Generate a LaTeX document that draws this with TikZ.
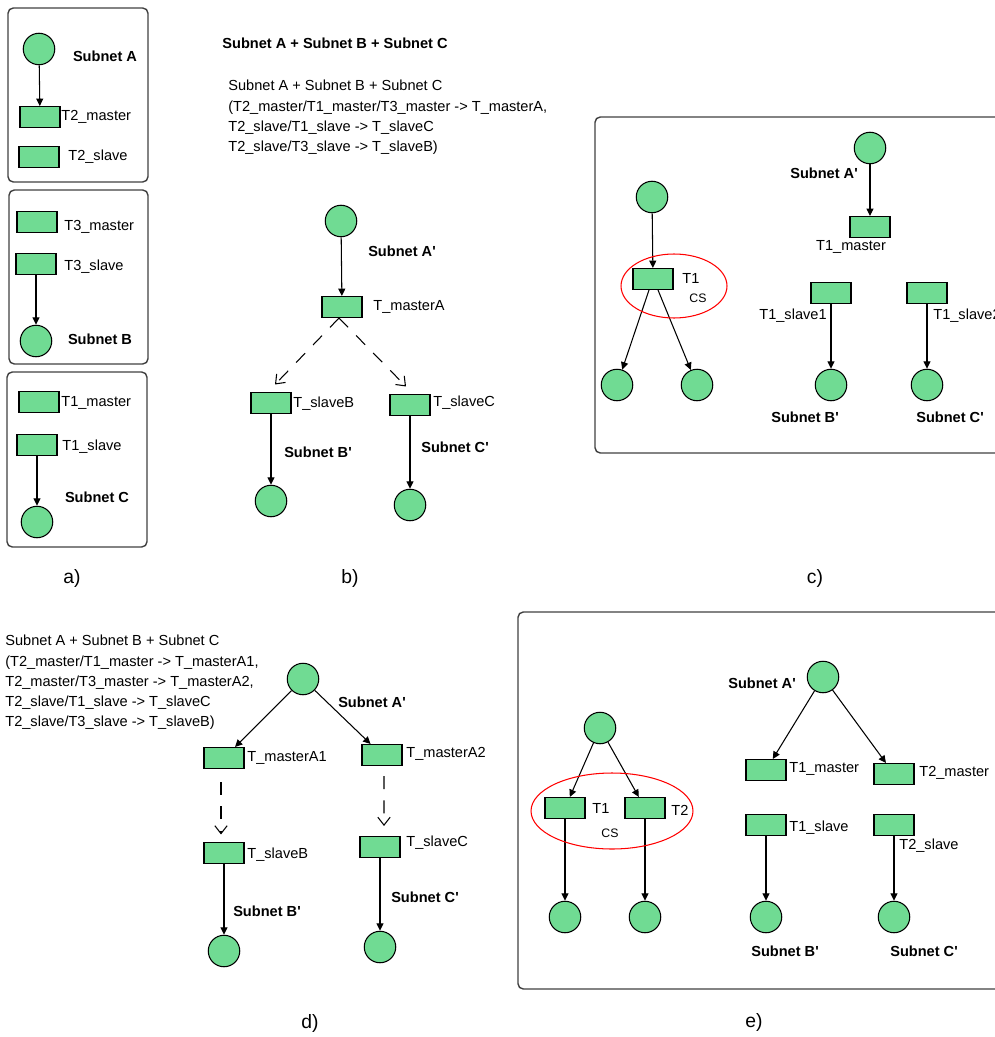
\documentclass[tikz,border=0pt]{standalone}
\usepackage{fontspec}
\setmainfont{Liberation Sans}
\usetikzlibrary{arrows.meta,positioning}
\definecolor{placegreen}{RGB}{112,219,147}
\newcommand{\subfont}{\fontsize{8.3}{11.5}\selectfont}

\begin{document}
\begin{tikzpicture}[
  x=0.02cm, y=-0.02cm,
  every node/.style={font=\subfont, inner sep=0pt},
  place/.style={circle, draw, fill=placegreen, line width=0.6pt, minimum size=0.63cm},
  trans/.style={rectangle, draw, fill=placegreen, line width=0.6pt, minimum width=0.8cm, minimum height=0.42cm},
  lbl/.style={anchor=west},
  sub/.style={font=\subfont\bfseries},
  cs/.style={font=\fontsize{7}{8}\selectfont},
  caption/.style={font=\fontsize{11}{12}\selectfont},
  arc/.style={-{Triangle[length=4.2pt,width=4pt]}, line width=0.6pt},
  darc/.style={-{Straight Barb[length=4.5pt,width=7pt]}, line width=0.6pt, dash pattern=on 7.4pt off 6.5pt},
  panel/.style={draw=black!75, line width=0.8pt, rounded corners=3pt},
  region/.style={draw=red, line width=0.6pt}
]
\useasboundingbox (0,0) rectangle (994,1037);

% a)
\draw[panel] (8,8) rectangle (148,182);
\draw[panel] (9,190) rectangle (148,364);
\draw[panel] (7,372) rectangle (147,547);
\node[place] (pA) at (39,49) {};
\node[sub] at (105,56) {Subnet A};
\node[trans] (t2m) at (40,117) {};
\node[lbl] at (61,117) {T2\_master};
\node[trans] (t2s) at (39,157) {};
\node[lbl] at (68,157) {T2\_slave};
\draw[arc] (pA) -- (t2m);
\node[trans] (t3m) at (37,222) {};
\node[lbl] at (64,227) {T3\_master};
\node[trans] (t3s) at (36,264) {};
\node[lbl] at (64,267) {T3\_slave};
\node[place] (pB) at (36,341) {};
\node[sub] at (100,339) {Subnet B};
\draw[arc] (t3s) -- (pB);
\node[trans] (t1m) at (39,402) {};
\node[lbl] at (61,403) {T1\_master};
\node[trans] (t1s) at (37,445) {};
\node[lbl] at (62,447) {T1\_slave};
\node[place] (pC) at (37,522) {};
\node[sub] at (97,497) {Subnet C};
\draw[arc] (t1s) -- (pC);
\node[caption] at (72,578) {a)};

% b)
\node[sub] at (335,43) {Subnet A + Subnet B + Subnet C};
\node[anchor=north west, align=left] at (228,80) {Subnet A + Subnet B + Subnet C\\
  (T2\_master/T1\_master/T3\_master -> T\_masterA,\\
  T2\_slave/T1\_slave -> T\_slaveC\\
  T2\_slave/T3\_slave -> T\_slaveB)};
\node[place] (pbA) at (341,221) {};
\node[sub] at (402,251) {Subnet A\textquotesingle};
\node[trans] (tmA) at (342,307) {};
\node[lbl] at (373,307) {T\_masterA};
\draw[arc] (pbA) -- (tmA);
\node[trans] (tsB) at (271,403) {};
\node[lbl] at (293,404) {T\_slaveB};
\node[trans] (tsC) at (410,405) {};
\node[lbl] at (433,403) {T\_slaveC};
\draw[darc] ([xshift=-0.06cm]tmA.south) -- ([xshift=0.08cm,yshift=0.15cm]tsB.north);
\draw[darc] ([xshift=-0.06cm]tmA.south) -- ([xshift=-0.08cm,yshift=0.15cm]tsC.north);
\node[place] (pbB) at (271,501) {};
\node[place] (pbC) at (410,505) {};
\draw[arc] (tsB) -- (pbB);
\draw[arc] (tsC) -- (pbC);
\node[sub] at (318,452) {Subnet B\textquotesingle};
\node[sub] at (455,447) {Subnet C\textquotesingle};
\node[caption] at (350,578) {b)};

% c)
\draw[panel] (595,117) rectangle (1010,453);
\node[place] (pc0) at (652,197) {};
\node[trans] (tc1) at (653,279) {};
\node[lbl] at (682,278) {T1};
\node[cs] at (698,298) {CS};
\node[place] (pc1) at (617,385) {};
\node[place] (pc2) at (697,385) {};
\draw[arc] (pc0) -- (tc1);
\draw[arc] ([xshift=-0.08cm]tc1.south) -- (pc1);
\draw[arc] ([xshift=0.1cm]tc1.south) -- (pc2);
\draw[region] (674,286) ellipse [x radius=1.06cm, y radius=0.64cm];
\node[place] (pcA) at (870,148) {};
\node[sub] at (824,173) {Subnet A\textquotesingle};
\node[trans] (tcm) at (870,227) {};
\node at (851,247) {T1\_master};
\draw[arc] (pcA) -- (tcm);
\node[trans] (tcs1) at (831,293) {};
\node at (793,316) {T1\_slave1};
\node[trans] (tcs2) at (927,293) {};
\node[lbl] at (933,316) {T1\_slave2};
\node[place] (pcB) at (831,385) {};
\node[place] (pcC) at (927,385) {};
\draw[arc] (tcs1) -- (pcB);
\draw[arc] (tcs2) -- (pcC);
\node[sub] at (805,417) {Subnet B\textquotesingle};
\node[sub] at (950,417) {Subnet C\textquotesingle};
\node[caption] at (815,578) {c)};

% d)
\node[anchor=north west, align=left] at (5,635) {Subnet A + Subnet B + Subnet C\\
  (T2\_master/T1\_master -> T\_masterA1,\\
  T2\_master/T3\_master -> T\_masterA2,\\
  T2\_slave/T1\_slave -> T\_slaveC\\
  T2\_slave/T3\_slave -> T\_slaveB)};
\node[place] (pdA) at (303,679) {};
\node[sub] at (372,702) {Subnet A\textquotesingle};
\node[trans] (tmA1) at (224,758) {};
\node[lbl] at (247,758) {T\_masterA1};
\node[trans] (tmA2) at (382,755) {};
\node[lbl] at (406,754) {T\_masterA2};
\draw[arc] (pdA) -- (tmA1);
\draw[arc] (pdA) -- (tmA2);
\node[trans] (tsB2) at (224,853) {};
\node[lbl] at (247,855) {T\_slaveB};
\node[trans] (tsC2) at (380,847) {};
\node[lbl] at (406,843) {T\_slaveC};
\draw[darc, shorten <=0.26cm, shorten >=0.15cm] ([xshift=-0.06cm]tmA1.south) -- ([xshift=-0.06cm]tsB2.north);
\draw[darc, shorten <=0.2cm, shorten >=0.2cm] ([xshift=0.04cm]tmA2.south) -- ([xshift=0.08cm]tsC2.north);
\node[place] (pdB) at (224,951) {};
\node[place] (pdC) at (380,947) {};
\draw[arc] (tsB2) -- (pdB);
\draw[arc] (tsC2) -- (pdC);
\node[sub] at (267,911) {Subnet B\textquotesingle};
\node[sub] at (425,897) {Subnet C\textquotesingle};
\node[caption] at (310,1023) {d)};

% e)
\draw[panel] (518,612) rectangle (1010,989);
\node[place] (pe0) at (600,728) {};
\node[trans] (te1) at (565,808) {};
\node[trans] (te2) at (645,808) {};
\node[lbl] at (592,808) {T1};
\node[lbl] at (671,810) {T2};
\node[cs] at (610,833) {CS};
\draw[arc] (pe0) -- (te1);
\draw[arc] (pe0) -- (te2);
\node[place] (pe1) at (565,917) {};
\node[place] (pe2) at (645,917) {};
\draw[arc] (te1) -- (pe1);
\draw[arc] (te2) -- (pe2);
\draw[region] (612,811) ellipse [x radius=1.62cm, y radius=0.76cm];
\node[place] (peA) at (823,677) {};
\node[sub] at (762,683) {Subnet A\textquotesingle};
\node[trans] (te1m) at (766,770) {};
\node[lbl] at (789,769) {T1\_master};
\node[trans] (te2m) at (894,774) {};
\node[lbl] at (919,773) {T2\_master};
\draw[arc] (peA) -- (te1m);
\draw[arc] (peA) -- (te2m);
\node[trans] (te1s) at (766,825) {};
\node[lbl] at (789,828) {T1\_slave};
\node[trans] (te2s) at (894,825) {};
\node[lbl] at (899,846) {T2\_slave};
\node[place] (peB) at (766,917) {};
\node[place] (peC) at (894,917) {};
\draw[arc] (te1s) -- (peB);
\draw[arc] (te2s) -- (peC);
\node[sub] at (785,951) {Subnet B\textquotesingle};
\node[sub] at (924,951) {Subnet C\textquotesingle};
\node[caption] at (754,1022) {e)};
\end{tikzpicture}
\end{document}
